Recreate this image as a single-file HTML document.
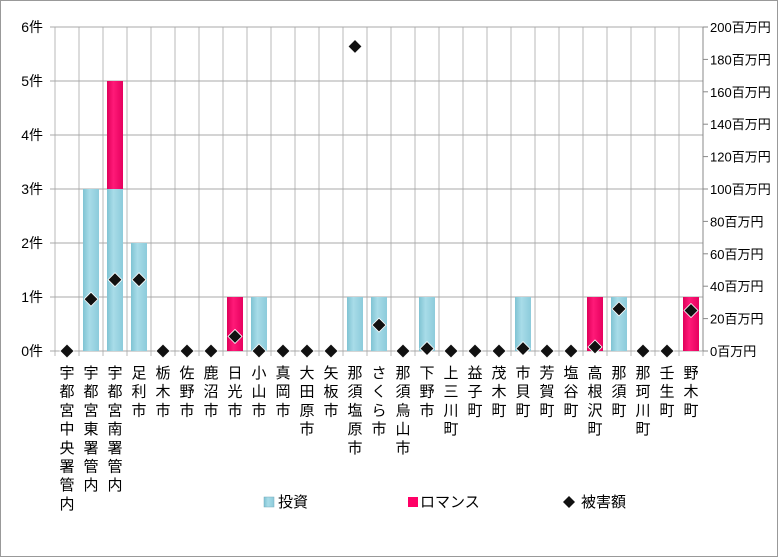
<!DOCTYPE html>
<html><head><meta charset="utf-8"><style>
body{margin:0;background:#fff}
svg{display:block;font-family:"Liberation Sans","Noto Sans CJK JP",sans-serif}
</style></head><body>
<svg id="chart" width="778" height="557" viewBox="0 0 778 557" xmlns="http://www.w3.org/2000/svg">
<defs>
<linearGradient id="gb" x1="0" x2="1" y1="0" y2="0"><stop offset="0" stop-color="#7fc3d3"/><stop offset="0.4" stop-color="#a8dce8"/><stop offset="1" stop-color="#8ccbdb"/></linearGradient>
<linearGradient id="gr" x1="0" x2="1" y1="0" y2="0"><stop offset="0" stop-color="#e0005a"/><stop offset="0.4" stop-color="#ff1a78"/><stop offset="1" stop-color="#e6005e"/></linearGradient>
</defs>
<rect x="0.5" y="0.5" width="777" height="556" fill="#fff" stroke="#999"/>
<g id="grid"></g><g id="bars"></g><g id="marks"></g><g id="axes"></g>
<g>
<rect x="264" y="497" width="10" height="10" fill="url(#gb)" stroke="#7ab" stroke-width="0.5"/>
<text x="278" y="507" font-size="15">投資</text>
<rect x="408" y="497" width="10" height="10" fill="#ff0066"/>
<text x="420" y="507" font-size="15">ロマンス</text>
<path d="M569 496 l6 6 -6 6 -6 -6z" fill="#111"/>
<text x="581" y="507" font-size="15">被害額</text>
</g>
</svg>
<script>
const categories=["宇都宮中央署管内","宇都宮東署管内","宇都宮南署管内","足利市","栃木市","佐野市","鹿沼市","日光市","小山市","真岡市","大田原市","矢板市","那須塩原市","さくら市","那須烏山市","下野市","上三川町","益子町","茂木町","市貝町","芳賀町","塩谷町","高根沢町","那須町","那珂川町","壬生町","野木町"];
const investment=[0,3,3,2,0,0,0,0,1,0,0,0,1,1,0,1,0,0,0,1,0,0,0,1,0,0,0];
const romance=[0,0,2,0,0,0,0,1,0,0,0,0,0,0,0,0,0,0,0,0,0,0,1,0,0,0,1];
const damage=[0,32,44,44,0,0,0,9,0,0,0,0,188,16,0,1.5,0,0,0,1.5,0,0,2.5,26,0,0,25];
const leftTicks=[0,1,2,3,4,5,6];
const rightTicks=[0,20,40,60,80,100,120,140,160,180,200];
const NS="http://www.w3.org/2000/svg";
const L=55,R=703,T=27,B=351;
const n=categories.length,cw=(R-L)/n;
const yL=v=>B-v/6*(B-T), yR=v=>B-v/200*(B-T), xC=i=>L+cw*(i+0.5);
function mk(p,tag,a){const e=document.createElementNS(NS,tag);for(const k in a)e.setAttribute(k,a[k]);document.getElementById(p).appendChild(e);return e;}
for(let i=0;i<=n;i++){const e=mk("grid","line",{x1:L+cw*i,x2:L+cw*i,y1:T,y2:B+5,stroke:"#b8b8b8"});

}
leftTicks.forEach(t=>{const e=mk("grid","line",{x1:L-5,x2:R,y1:yL(t),y2:yL(t),stroke:"#a8a8a8"});


const tx=mk("axes","text",{x:L-12,y:yL(t)+5,"font-size":14,"text-anchor":"end"});tx.textContent=t+"件";

});
rightTicks.forEach(t=>{const e=mk("axes","line",{x1:R,x2:R+5,y1:yR(t),y2:yR(t),stroke:"#888"});


const tx=mk("axes","text",{x:R+7,y:yR(t)+5,"font-size":13});tx.textContent=t+"百万円";

});
const ax=mk("axes","line",{x1:R,x2:R,y1:T,y2:B,stroke:"#888"});


const bw=16;
categories.forEach((c,i)=>{
 if(investment[i]>0){const r=mk("bars","rect",{x:xC(i)-bw/2,y:yL(investment[i]),width:bw,height:B-yL(investment[i]),fill:"url(#gb)"});
 
 }
 if(romance[i]>0){const r=mk("bars","rect",{x:xC(i)-bw/2,y:yL(investment[i]+romance[i]),width:bw,height:yL(investment[i])-yL(investment[i]+romance[i]),fill:"url(#gr)"});
 
 }
 const x=xC(i),y=yR(damage[i]);
 const d=mk("marks","path",{d:`M${x} ${y-7} L${x+7} ${y} L${x} ${y+7} L${x-7} ${y}Z`,fill:"#111",stroke:"#fff","stroke-width":0.8});
 
 
 [...c].forEach((ch,j)=>{const t=mk("axes","text",{x:x,y:378+j*18.7,"font-size":15,"text-anchor":"middle"});t.textContent=ch;
 
 });
});
</script>
</body></html>
